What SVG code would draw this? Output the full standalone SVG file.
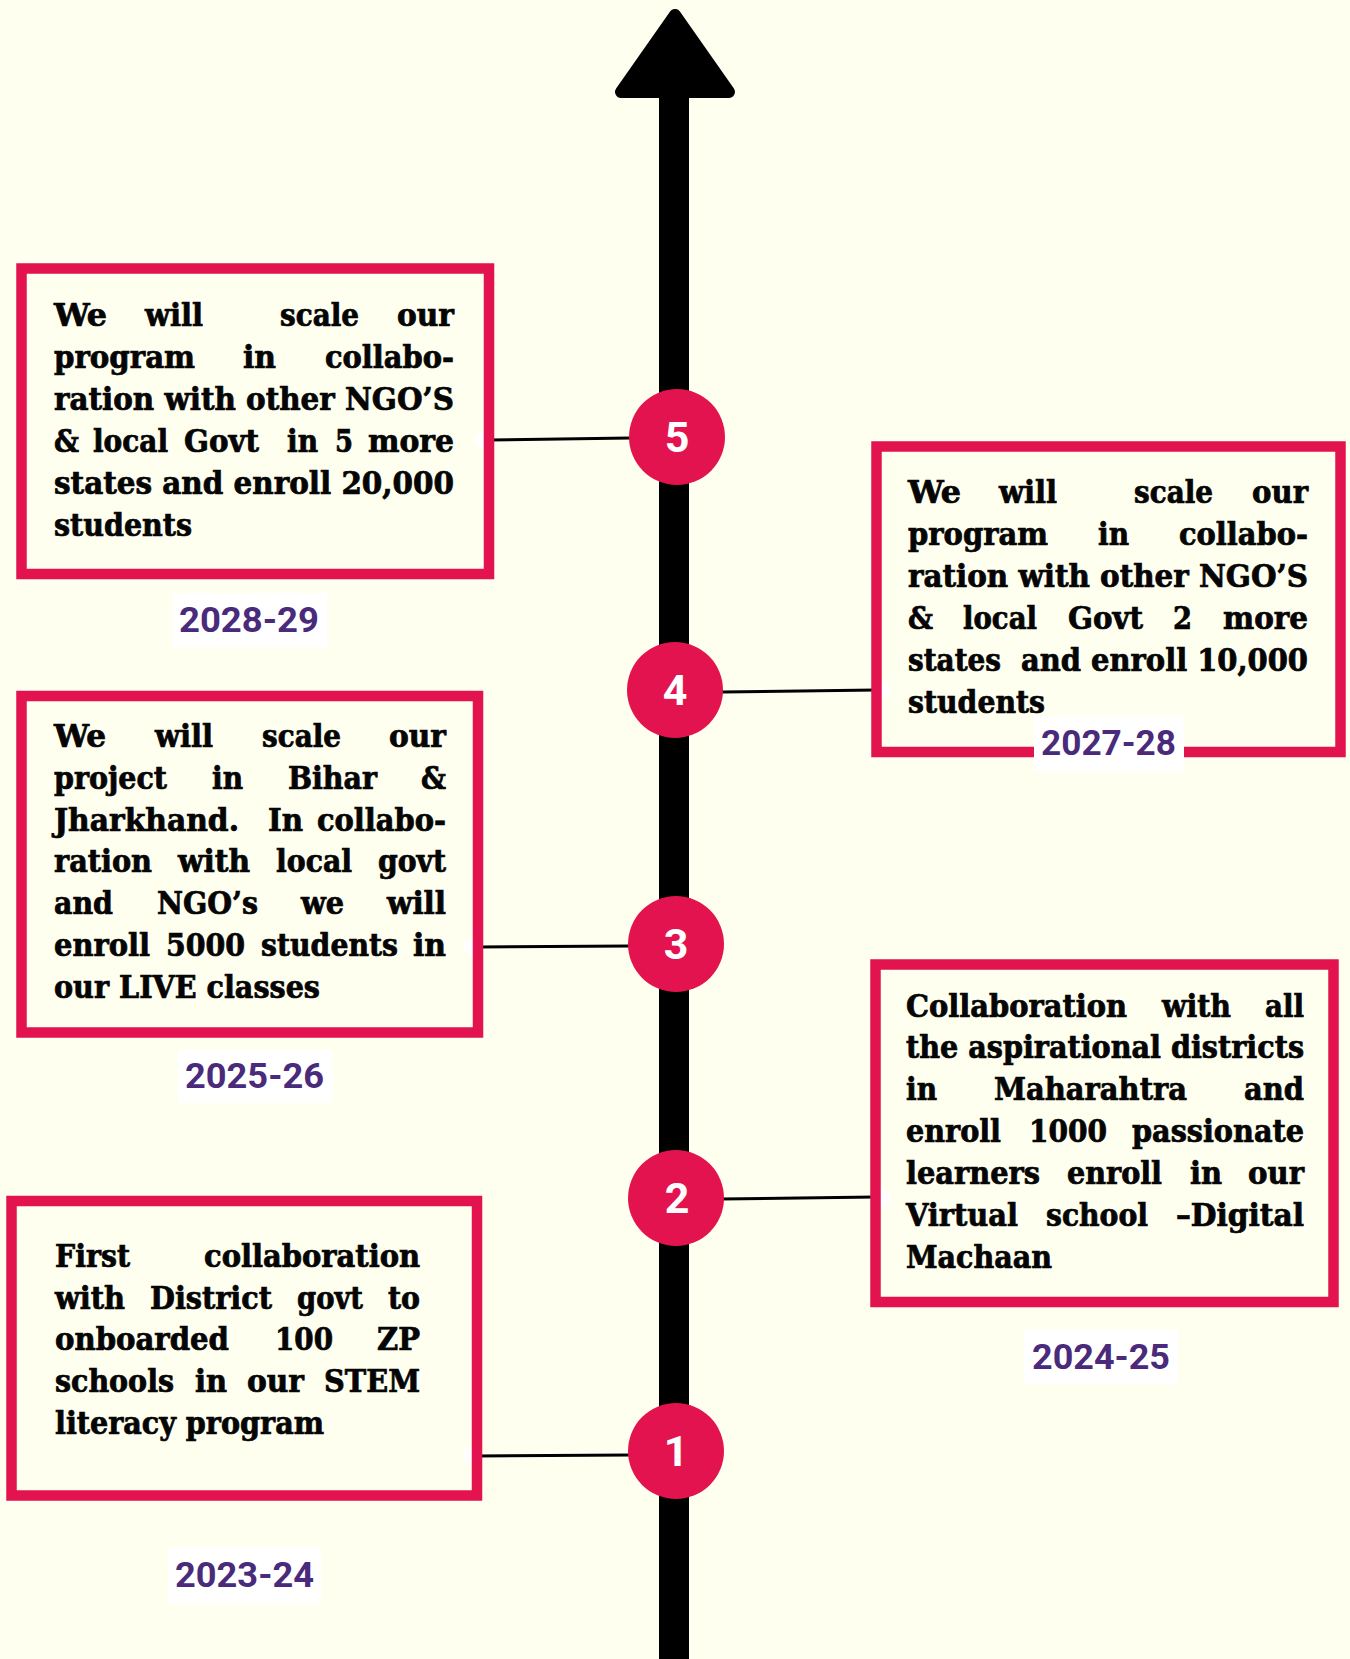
<svg xmlns="http://www.w3.org/2000/svg" width="1350" height="1659" viewBox="0 0 1350 1659">
<style>
.bg{fill:#FFFFF0}
.box{fill:none;stroke:#E2134F;stroke-width:10.5}
.dot{fill:#FFFFFF}
.conn{stroke:#000;stroke-width:3;fill:none}
.node{fill:#E2134F}
.num{font-family:Roboto,"Liberation Sans",sans-serif;font-weight:700;font-size:43px;fill:#FFFFFF;text-anchor:middle}
.t{font-family:"DejaVu Serif","Liberation Serif",serif;font-weight:bold;font-size:31px;fill:#050505;stroke:#050505;stroke-width:0.7;font-stretch:condensed}
.yrbg{fill:#FFFFFF}
.yr{font-family:Roboto,"Liberation Sans",sans-serif;font-weight:700;font-size:35px;fill:#4A2A7A}
</style>
<rect class="bg" x="0" y="0" width="1350" height="1659"/>
<g id="axis">
<rect x="659" y="80" width="30" height="1579" fill="#000"/>
<polygon points="675,15 621,92 729,92" fill="#000" stroke="#000" stroke-width="12" stroke-linejoin="round"/>
</g>
<g id="connectors">
<circle class="dot" cx="484" cy="440" r="9"/>
<circle class="dot" cx="881" cy="690" r="9"/>
<circle class="dot" cx="473" cy="947" r="9"/>
<circle class="dot" cx="881" cy="1198" r="9"/>
<circle class="dot" cx="472" cy="1455" r="9"/>
<line class="conn" x1="489" y1="440" x2="630" y2="438"/>
<line class="conn" x1="722" y1="692" x2="876" y2="690"/>
<line class="conn" x1="478" y1="947" x2="630" y2="946"/>
<line class="conn" x1="722" y1="1199" x2="875" y2="1197"/>
<line class="conn" x1="477" y1="1456" x2="630" y2="1455"/>
</g>
<g id="node-5">
<rect class="box" x="21.5" y="268.5" width="467.5" height="305.5"/>
<text class="t" x="54" y="326" textLength="53" lengthAdjust="spacingAndGlyphs">We</text>
<text class="t" x="145" y="326" textLength="58" lengthAdjust="spacingAndGlyphs">will</text>
<text class="t" x="280" y="326" textLength="79" lengthAdjust="spacingAndGlyphs">scale</text>
<text class="t" x="397" y="326" textLength="57" lengthAdjust="spacingAndGlyphs">our</text>
<text class="t" x="54" y="368" textLength="141" lengthAdjust="spacingAndGlyphs">program</text>
<text class="t" x="243" y="368" textLength="33" lengthAdjust="spacingAndGlyphs">in</text>
<text class="t" x="325" y="368" textLength="129" lengthAdjust="spacingAndGlyphs">collabo-</text>
<text class="t" x="54" y="410" textLength="400" lengthAdjust="spacingAndGlyphs">ration with other NGO’S</text>
<text class="t" x="54" y="452" textLength="25" lengthAdjust="spacingAndGlyphs">&amp;</text>
<text class="t" x="93" y="452" textLength="75" lengthAdjust="spacingAndGlyphs">local</text>
<text class="t" x="184" y="452" textLength="75" lengthAdjust="spacingAndGlyphs">Govt</text>
<text class="t" x="287" y="452" textLength="31" lengthAdjust="spacingAndGlyphs">in</text>
<text class="t" x="335" y="452" textLength="18" lengthAdjust="spacingAndGlyphs">5</text>
<text class="t" x="368" y="452" textLength="86" lengthAdjust="spacingAndGlyphs">more</text>
<text class="t" x="54" y="494" textLength="400" lengthAdjust="spacingAndGlyphs">states and enroll 20,000</text>
<text class="t" x="54" y="536" textLength="138" lengthAdjust="spacingAndGlyphs">students</text>
<rect class="yrbg" x="173" y="593" width="154" height="54"/>
<text class="yr" x="179" y="632" textLength="140" lengthAdjust="spacingAndGlyphs">2028-29</text>
<circle class="node" cx="677" cy="437" r="48"/>
<text class="num" x="677" y="452">5</text>
</g>
<g id="node-4">
<rect class="box" x="876.5" y="446.5" width="464" height="305.5"/>
<text class="t" x="908" y="503" textLength="53" lengthAdjust="spacingAndGlyphs">We</text>
<text class="t" x="999" y="503" textLength="58" lengthAdjust="spacingAndGlyphs">will</text>
<text class="t" x="1134" y="503" textLength="79" lengthAdjust="spacingAndGlyphs">scale</text>
<text class="t" x="1252" y="503" textLength="56" lengthAdjust="spacingAndGlyphs">our</text>
<text class="t" x="908" y="545" textLength="140" lengthAdjust="spacingAndGlyphs">program</text>
<text class="t" x="1098" y="545" textLength="31" lengthAdjust="spacingAndGlyphs">in</text>
<text class="t" x="1179" y="545" textLength="129" lengthAdjust="spacingAndGlyphs">collabo-</text>
<text class="t" x="908" y="587" textLength="400" lengthAdjust="spacingAndGlyphs">ration with other NGO’S</text>
<text class="t" x="908" y="629" textLength="25" lengthAdjust="spacingAndGlyphs">&amp;</text>
<text class="t" x="963" y="629" textLength="74" lengthAdjust="spacingAndGlyphs">local</text>
<text class="t" x="1068" y="629" textLength="75" lengthAdjust="spacingAndGlyphs">Govt</text>
<text class="t" x="1173" y="629" textLength="19" lengthAdjust="spacingAndGlyphs">2</text>
<text class="t" x="1223" y="629" textLength="85" lengthAdjust="spacingAndGlyphs">more</text>
<text class="t" x="908" y="671" textLength="93" lengthAdjust="spacingAndGlyphs">states</text>
<text class="t" x="1021" y="671" textLength="287" lengthAdjust="spacingAndGlyphs">and enroll 10,000</text>
<text class="t" x="908" y="713" textLength="137" lengthAdjust="spacingAndGlyphs">students</text>
<rect class="yrbg" x="1034" y="717" width="150" height="54"/>
<text class="yr" x="1041" y="755" textLength="135" lengthAdjust="spacingAndGlyphs">2027-28</text>
<circle class="node" cx="675" cy="690" r="48"/>
<text class="num" x="675" y="705">4</text>
</g>
<g id="node-3">
<rect class="box" x="21.5" y="696" width="456.5" height="336.5"/>
<text class="t" x="54" y="747" textLength="52" lengthAdjust="spacingAndGlyphs">We</text>
<text class="t" x="155" y="747" textLength="58" lengthAdjust="spacingAndGlyphs">will</text>
<text class="t" x="262" y="747" textLength="79" lengthAdjust="spacingAndGlyphs">scale</text>
<text class="t" x="389" y="747" textLength="57" lengthAdjust="spacingAndGlyphs">our</text>
<text class="t" x="54" y="789" textLength="113" lengthAdjust="spacingAndGlyphs">project</text>
<text class="t" x="212" y="789" textLength="31" lengthAdjust="spacingAndGlyphs">in</text>
<text class="t" x="288" y="789" textLength="89" lengthAdjust="spacingAndGlyphs">Bihar</text>
<text class="t" x="421" y="789" textLength="25" lengthAdjust="spacingAndGlyphs">&amp;</text>
<text class="t" x="54" y="831" textLength="185" lengthAdjust="spacingAndGlyphs">Jharkhand.</text>
<text class="t" x="268" y="831" textLength="35" lengthAdjust="spacingAndGlyphs">In</text>
<text class="t" x="317" y="831" textLength="129" lengthAdjust="spacingAndGlyphs">collabo-</text>
<text class="t" x="54" y="872" textLength="98" lengthAdjust="spacingAndGlyphs">ration</text>
<text class="t" x="178" y="872" textLength="72" lengthAdjust="spacingAndGlyphs">with</text>
<text class="t" x="276" y="872" textLength="76" lengthAdjust="spacingAndGlyphs">local</text>
<text class="t" x="378" y="872" textLength="68" lengthAdjust="spacingAndGlyphs">govt</text>
<text class="t" x="54" y="914" textLength="59" lengthAdjust="spacingAndGlyphs">and</text>
<text class="t" x="157" y="914" textLength="101" lengthAdjust="spacingAndGlyphs">NGO’s</text>
<text class="t" x="301" y="914" textLength="43" lengthAdjust="spacingAndGlyphs">we</text>
<text class="t" x="387" y="914" textLength="59" lengthAdjust="spacingAndGlyphs">will</text>
<text class="t" x="54" y="956" textLength="96" lengthAdjust="spacingAndGlyphs">enroll</text>
<text class="t" x="166" y="956" textLength="79" lengthAdjust="spacingAndGlyphs">5000</text>
<text class="t" x="261" y="956" textLength="137" lengthAdjust="spacingAndGlyphs">students</text>
<text class="t" x="413" y="956" textLength="33" lengthAdjust="spacingAndGlyphs">in</text>
<text class="t" x="54" y="998" textLength="266" lengthAdjust="spacingAndGlyphs">our LIVE classes</text>
<rect class="yrbg" x="178" y="1050" width="154" height="53"/>
<text class="yr" x="185" y="1088" textLength="139" lengthAdjust="spacingAndGlyphs">2025-26</text>
<circle class="node" cx="676" cy="944" r="48"/>
<text class="num" x="676" y="959">3</text>
</g>
<g id="node-2">
<rect class="box" x="875.5" y="964.5" width="458" height="337.5"/>
<text class="t" x="906" y="1017" textLength="221" lengthAdjust="spacingAndGlyphs">Collaboration</text>
<text class="t" x="1162" y="1017" textLength="69" lengthAdjust="spacingAndGlyphs">with</text>
<text class="t" x="1265" y="1017" textLength="39" lengthAdjust="spacingAndGlyphs">all</text>
<text class="t" x="906" y="1058" textLength="398" lengthAdjust="spacingAndGlyphs">the aspirational districts</text>
<text class="t" x="906" y="1100" textLength="31" lengthAdjust="spacingAndGlyphs">in</text>
<text class="t" x="994" y="1100" textLength="193" lengthAdjust="spacingAndGlyphs">Maharahtra</text>
<text class="t" x="1244" y="1100" textLength="60" lengthAdjust="spacingAndGlyphs">and</text>
<text class="t" x="906" y="1142" textLength="95" lengthAdjust="spacingAndGlyphs">enroll</text>
<text class="t" x="1029" y="1142" textLength="78" lengthAdjust="spacingAndGlyphs">1000</text>
<text class="t" x="1132" y="1142" textLength="172" lengthAdjust="spacingAndGlyphs">passionate</text>
<text class="t" x="906" y="1184" textLength="134" lengthAdjust="spacingAndGlyphs">learners</text>
<text class="t" x="1067" y="1184" textLength="95" lengthAdjust="spacingAndGlyphs">enroll</text>
<text class="t" x="1190" y="1184" textLength="32" lengthAdjust="spacingAndGlyphs">in</text>
<text class="t" x="1248" y="1184" textLength="56" lengthAdjust="spacingAndGlyphs">our</text>
<text class="t" x="906" y="1226" textLength="112" lengthAdjust="spacingAndGlyphs">Virtual</text>
<text class="t" x="1046" y="1226" textLength="102" lengthAdjust="spacingAndGlyphs">school</text>
<text class="t" x="1176" y="1226" textLength="128" lengthAdjust="spacingAndGlyphs">–Digital</text>
<text class="t" x="906" y="1268" textLength="146" lengthAdjust="spacingAndGlyphs">Machaan</text>
<rect class="yrbg" x="1024" y="1330" width="154" height="54"/>
<text class="yr" x="1032" y="1369" textLength="138" lengthAdjust="spacingAndGlyphs">2024-25</text>
<circle class="node" cx="676" cy="1198" r="48"/>
<text class="num" x="677" y="1213">2</text>
</g>
<g id="node-1">
<rect class="box" x="11.5" y="1201" width="465.5" height="294.5"/>
<text class="t" x="55" y="1267" textLength="75" lengthAdjust="spacingAndGlyphs">First</text>
<text class="t" x="204" y="1267" textLength="216" lengthAdjust="spacingAndGlyphs">collaboration</text>
<text class="t" x="55" y="1309" textLength="70" lengthAdjust="spacingAndGlyphs">with</text>
<text class="t" x="150" y="1309" textLength="122" lengthAdjust="spacingAndGlyphs">District</text>
<text class="t" x="297" y="1309" textLength="66" lengthAdjust="spacingAndGlyphs">govt</text>
<text class="t" x="388" y="1309" textLength="32" lengthAdjust="spacingAndGlyphs">to</text>
<text class="t" x="55" y="1350" textLength="174" lengthAdjust="spacingAndGlyphs">onboarded</text>
<text class="t" x="275" y="1350" textLength="58" lengthAdjust="spacingAndGlyphs">100</text>
<text class="t" x="377" y="1350" textLength="43" lengthAdjust="spacingAndGlyphs">ZP</text>
<text class="t" x="55" y="1392" textLength="119" lengthAdjust="spacingAndGlyphs">schools</text>
<text class="t" x="195" y="1392" textLength="32" lengthAdjust="spacingAndGlyphs">in</text>
<text class="t" x="247" y="1392" textLength="57" lengthAdjust="spacingAndGlyphs">our</text>
<text class="t" x="324" y="1392" textLength="96" lengthAdjust="spacingAndGlyphs">STEM</text>
<text class="t" x="55" y="1434" textLength="269" lengthAdjust="spacingAndGlyphs">literacy program</text>
<rect class="yrbg" x="168" y="1548" width="153" height="55"/>
<text class="yr" x="175" y="1587" textLength="139" lengthAdjust="spacingAndGlyphs">2023-24</text>
<circle class="node" cx="676" cy="1451" r="48"/>
<text class="num" x="676" y="1466">1</text>
</g>
</svg>
